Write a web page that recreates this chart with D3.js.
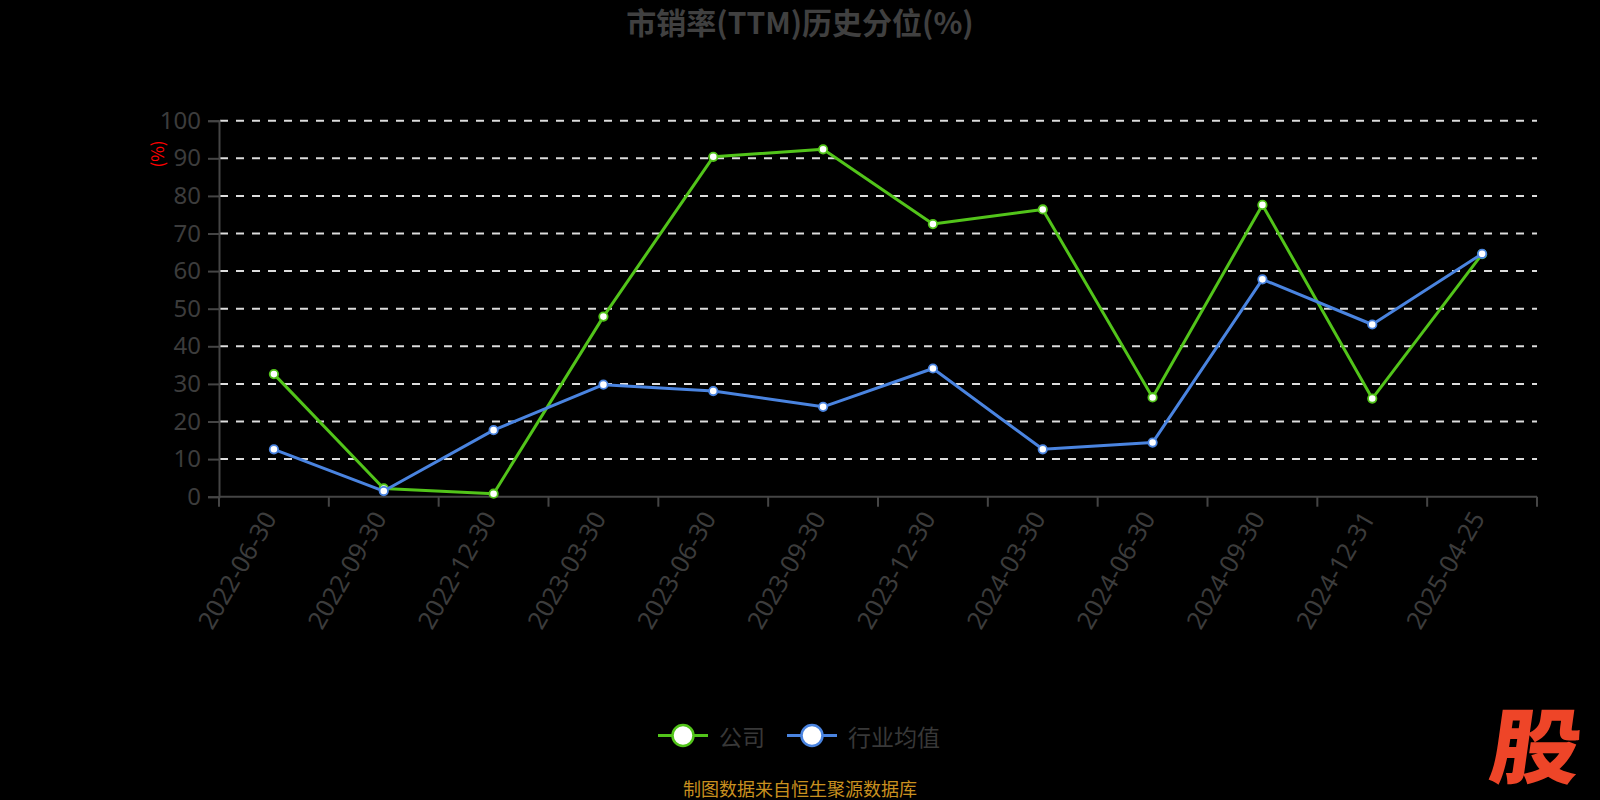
<!DOCTYPE html>
<html>
<head>
<meta charset="utf-8">
<script src="https://cdn.jsdelivr.net/npm/d3@7"></script>
<style>
  html, body { margin: 0; padding: 0; background: #000; }
  svg { display: block; }
  text { font-family: "Noto Sans CJK SC", "Noto Sans", sans-serif; }
</style>
</head>
<body>
<svg id="chart" width="1600" height="800"></svg>
<script>
// data
const dates = ["2022-06-30","2022-09-30","2022-12-30","2023-03-30","2023-06-30","2023-09-30",
               "2023-12-30","2024-03-30","2024-06-30","2024-09-30","2024-12-31","2025-04-25"];
const company  = [32.6, 2.2, 0.8, 47.9, 90.4, 92.4, 72.5, 76.4, 26.4, 77.6, 26.1, 64.5];
const industry = [12.6, 1.5, 17.7, 29.8, 28.1, 23.9, 34.1, 12.6, 14.4, 57.8, 45.8, 64.6];
const yTicks = [0, 10, 20, 30, 40, 50, 60, 70, 80, 90, 100];
const seriesNames = ["公司", "行业均值"];
const colors = ["#52c41a", "#4a84e0"];

const svg = d3.select("#chart");
const plotLeft = 219, plotRight = 1537, plotTop = 120.7, plotBottom = 496.7;
const numFont = "'Noto Sans', 'Open Sans', sans-serif";

const x = d3.scaleBand().domain(dates).range([plotLeft, plotRight]).padding(0);
const y = d3.scaleLinear().domain([0, 100]).range([plotBottom, plotTop]);

svg.append("rect").attr("width", 1600).attr("height", 800).attr("fill", "#000");

// title
svg.append("text")
  .attr("x", 800).attr("y", 21)
  .attr("text-anchor", "middle").attr("dominant-baseline", "central")
  .attr("font-size", 30).attr("font-weight", "bold").attr("fill", "#404040")
  .text("市销率(TTM)历史分位(%)");

// grid lines (dashed)
svg.append("g")
  .selectAll("line")
  .data(yTicks.filter(d => d > 0))
  .enter().append("line")
  .attr("x1", plotLeft + 1).attr("x2", plotRight)
  .attr("y1", d => y(d)).attr("y2", d => y(d))
  .attr("stroke", "#dcdcdc").attr("stroke-width", 2)
  .attr("stroke-dasharray", "8,8");

// y axis
const yAxis = svg.append("g")
  .attr("transform", `translate(${plotLeft},0)`)
  .call(d3.axisLeft(y).tickValues(yTicks).tickSize(11).tickPadding(7));
yAxis.select(".domain").attr("stroke", "#454545").attr("stroke-width", 2);
yAxis.selectAll(".tick line").attr("stroke", "#454545").attr("stroke-width", 2);
yAxis.selectAll(".tick text")
  .attr("font-size", 24).attr("fill", "#3c3c3c")
  .style("font-family", numFont);

svg.append("text")
  .attr("transform", "translate(156,154) rotate(-90)")
  .attr("text-anchor", "middle").attr("dominant-baseline", "central")
  .attr("font-size", 17).attr("fill", "#ff0000")
  .text("(%)");

// x axis: ticks on the band edges, labels in the middle
const xAxis = svg.append("g").attr("transform", `translate(0,${plotBottom})`);
xAxis.append("line")
  .attr("x1", plotLeft).attr("x2", plotRight)
  .attr("stroke", "#454545").attr("stroke-width", 2);
xAxis.selectAll(".xtick")
  .data(dates.concat(["end"]))
  .enter().append("line")
  .attr("class", "xtick")
  .attr("x1", d => d === "end" ? plotRight : x(d))
  .attr("x2", d => d === "end" ? plotRight : x(d))
  .attr("y1", 0).attr("y2", 10)
  .attr("stroke", "#454545").attr("stroke-width", 2);
xAxis.selectAll(".xlabel")
  .data(dates)
  .enter().append("text")
  .attr("class", "xlabel")
  .attr("transform", d => `translate(${x(d) + x.bandwidth() / 2 - 4},${17}) rotate(-60)`)
  .attr("text-anchor", "end").attr("dy", "0.35em")
  .attr("font-size", 25).attr("fill", "#3c3c3c")
  .style("font-family", numFont)
  .text(d => d);

// lines + markers
const line = d3.line()
  .x((d, i) => x(dates[i]) + x.bandwidth() / 2)
  .y(d => y(d));

[company, industry].forEach((values, k) => {
  const g = svg.append("g");
  g.append("path")
    .datum(values)
    .attr("d", line)
    .attr("fill", "none")
    .attr("stroke", colors[k])
    .attr("stroke-width", 3)
    .attr("stroke-linejoin", "round");
  g.selectAll("circle")
    .data(values)
    .enter().append("circle")
    .attr("cx", (d, i) => x(dates[i]) + x.bandwidth() / 2)
    .attr("cy", d => y(d))
    .attr("r", 4.2)
    .attr("fill", "#fff")
    .attr("stroke", colors[k])
    .attr("stroke-width", 1.8);
});

// legend
const legendX = [658, 787];
const legend = svg.append("g");
seriesNames.forEach((name, k) => {
  const lx = legendX[k], ly = 735.5;
  legend.append("line")
    .attr("x1", lx).attr("x2", lx + 50).attr("y1", ly).attr("y2", ly)
    .attr("stroke", colors[k]).attr("stroke-width", 3);
  legend.append("circle")
    .attr("cx", lx + 25).attr("cy", ly).attr("r", 10.5)
    .attr("fill", "#fff").attr("stroke", colors[k]).attr("stroke-width", 2.5);
  legend.append("text")
    .attr("x", lx + 61).attr("y", ly)
    .attr("dominant-baseline", "central")
    .attr("font-size", 23).attr("fill", "#383838")
    .text(name);
});

// source note
svg.append("text")
  .attr("x", 800).attr("y", 788)
  .attr("text-anchor", "middle").attr("dominant-baseline", "central")
  .attr("font-size", 18).attr("fill", "#c9901f")
  .text("制图数据来自恒生聚源数据库");

// logo
svg.append("text")
  .attr("transform", "translate(1537,741) skewX(-8) scale(1.1,1)")
  .attr("text-anchor", "middle").attr("dominant-baseline", "central")
  .attr("font-size", 82).attr("font-weight", 900).attr("fill", "#ee4528")
  .text("股");
</script>
</body>
</html>
